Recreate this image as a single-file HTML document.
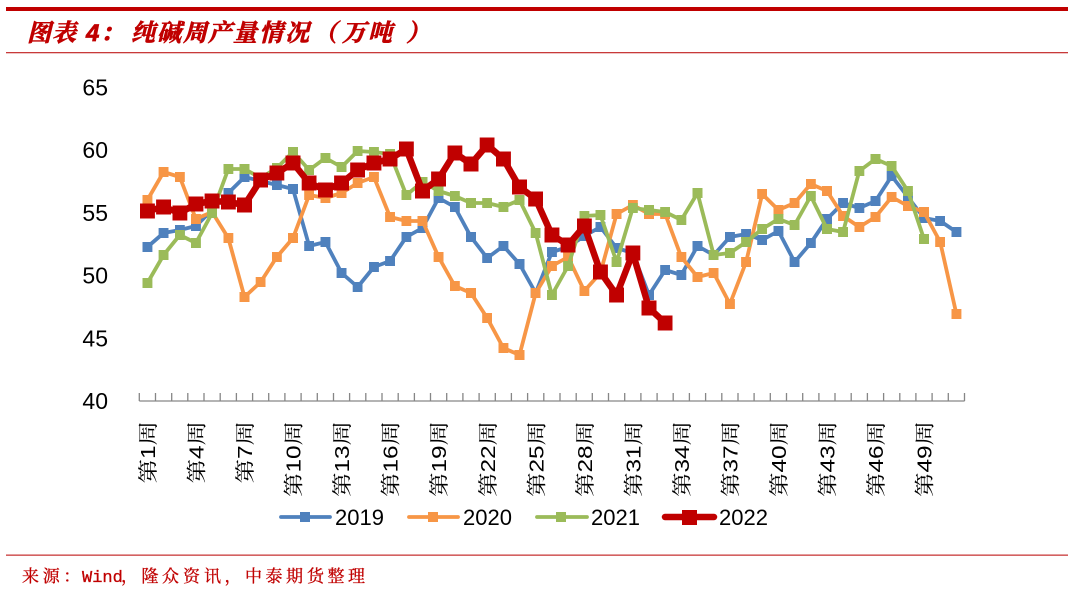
<!DOCTYPE html>
<html>
<head>
<meta charset="utf-8">
<style>
html,body{margin:0;padding:0;background:#fff;}
body{width:1080px;height:590px;overflow:hidden;}
svg{display:block;}
</style>
</head>
<body>
<svg width="1080" height="590" viewBox="0 0 1080 590" xmlns="http://www.w3.org/2000/svg">
<defs>
  <marker id="mb" markerUnits="userSpaceOnUse" markerWidth="10" markerHeight="10" refX="5" refY="5" viewBox="0 0 10 10"><rect x="0" y="0" width="10" height="10" fill="#4F81BD"/></marker>
  <marker id="mo" markerUnits="userSpaceOnUse" markerWidth="10" markerHeight="10" refX="5" refY="5" viewBox="0 0 10 10"><rect x="0" y="0" width="10" height="10" fill="#F79646"/></marker>
  <marker id="mg" markerUnits="userSpaceOnUse" markerWidth="10" markerHeight="10" refX="5" refY="5" viewBox="0 0 10 10"><rect x="0" y="0" width="10" height="10" fill="#9BBB59"/></marker>
  <marker id="mr" markerUnits="userSpaceOnUse" markerWidth="15" markerHeight="15" refX="7.5" refY="7.5" viewBox="0 0 15 15"><rect x="0" y="0" width="15" height="15" fill="#C00000"/></marker>
</defs>

<!-- header bars -->
<rect x="6" y="7" width="1062" height="4" fill="#C00000"/>
<rect x="6" y="52" width="1062" height="1.3" fill="#C83A3A"/>
<rect x="6" y="554.5" width="1062" height="1.3" fill="#C83A3A"/>

<!-- title -->
<text y="41" font-size="24" font-weight="bold" font-style="italic" fill="#C00000" stroke="#C00000" stroke-width="0.7" font-family="'Liberation Sans','Noto Serif CJK SC',serif" x="27 52 86 100 131 157 183 208 233 259 285 313 342 368 406">图表4：纯碱周产量情况（万吨）</text>

<!-- footer -->
<text y="582" font-size="17" fill="#C00000" stroke="#C00000" stroke-width="0.3" font-family="'Liberation Mono','Noto Serif CJK SC',serif" x="22 42.7 63.4 82 92.2 102.4 112.6 121 141.5 162 183 204 224.5 245 265.5 286 307 327.5 348">来源：Wind，隆众资讯，中泰期货整理</text>

<!-- y axis labels -->
<g font-family="'Liberation Sans',sans-serif" font-size="23" fill="#000" text-anchor="end">
  <text x="108" y="95.5">65</text>
  <text x="108" y="158">60</text>
  <text x="108" y="220.8">55</text>
  <text x="108" y="283.6">50</text>
  <text x="108" y="346.4">45</text>
  <text x="108" y="409.2">40</text>
</g>

<!-- x axis -->
<g stroke="#868686" stroke-width="1.3" fill="none">
  <line x1="139.3" y1="401" x2="964.6" y2="401"/>
  <path d="M139.3 393V401 M155.5 393V401 M171.7 393V401 M187.8 393V401 M204 393V401 M220.2 393V401 M236.4 393V401 M252.6 393V401 M268.7 393V401 M284.9 393V401 M301.1 393V401 M317.3 393V401 M333.5 393V401 M349.6 393V401 M365.8 393V401 M382 393V401 M398.2 393V401 M414.4 393V401 M430.5 393V401 M446.7 393V401 M462.9 393V401 M479.1 393V401 M495.3 393V401 M511.4 393V401 M527.6 393V401 M543.8 393V401 M560 393V401 M576.2 393V401 M592.3 393V401 M608.5 393V401 M624.7 393V401 M640.9 393V401 M657.1 393V401 M673.2 393V401 M689.4 393V401 M705.6 393V401 M721.8 393V401 M738 393V401 M754.1 393V401 M770.3 393V401 M786.5 393V401 M802.7 393V401 M818.9 393V401 M835 393V401 M851.2 393V401 M867.4 393V401 M883.6 393V401 M899.8 393V401 M915.9 393V401 M932.1 393V401 M948.3 393V401 M964.5 393V401"/>
</g>

<!-- x labels -->
<g font-family="'Liberation Sans','Noto Serif CJK SC',serif" font-size="20" fill="#000" text-anchor="end">
  <text transform="translate(155,421) rotate(-90) scale(1.22,1)">第1周</text>
  <text transform="translate(203.5,421) rotate(-90) scale(1.22,1)">第4周</text>
  <text transform="translate(252.1,421) rotate(-90) scale(1.22,1)">第7周</text>
  <text transform="translate(300.6,421) rotate(-90) scale(1.22,1)">第10周</text>
  <text transform="translate(349.2,421) rotate(-90) scale(1.22,1)">第13周</text>
  <text transform="translate(397.7,421) rotate(-90) scale(1.22,1)">第16周</text>
  <text transform="translate(446.2,421) rotate(-90) scale(1.22,1)">第19周</text>
  <text transform="translate(494.8,421) rotate(-90) scale(1.22,1)">第22周</text>
  <text transform="translate(543.3,421) rotate(-90) scale(1.22,1)">第25周</text>
  <text transform="translate(591.9,421) rotate(-90) scale(1.22,1)">第28周</text>
  <text transform="translate(640.4,421) rotate(-90) scale(1.22,1)">第31周</text>
  <text transform="translate(688.9,421) rotate(-90) scale(1.22,1)">第34周</text>
  <text transform="translate(737.5,421) rotate(-90) scale(1.22,1)">第37周</text>
  <text transform="translate(786,421) rotate(-90) scale(1.22,1)">第40周</text>
  <text transform="translate(834.6,421) rotate(-90) scale(1.22,1)">第43周</text>
  <text transform="translate(883.1,421) rotate(-90) scale(1.22,1)">第46周</text>
  <text transform="translate(931.6,421) rotate(-90) scale(1.22,1)">第49周</text>
</g>

<!-- series -->
<g fill="none" stroke-linejoin="round" stroke-linecap="round">
<polyline stroke="#4F81BD" stroke-width="3.8" marker-start="url(#mb)" marker-mid="url(#mb)" marker-end="url(#mb)" points="147.4,247 163.6,233 179.8,230 195.9,226 212.1,210 228.3,193 244.5,177 260.7,181 276.8,185 293.0,189 309.2,246 325.4,242 341.6,273 357.7,287 373.9,267 390.1,261 406.3,237 422.5,228 438.6,198 454.8,207 471.0,237 487.2,258 503.4,246 519.5,264 535.7,293 551.9,252 568.1,247 584.3,236 600.4,227 616.6,248 632.8,253 649.0,295 665.2,270 681.3,275 697.5,246 713.7,255 729.9,237 746.1,234 762.2,240 778.4,231 794.6,262 810.8,243 827.0,219 843.1,203 859.3,208 875.5,201 891.7,176 907.9,197 924.0,218 940.2,221 956.4,232"/>
<polyline stroke="#F79646" stroke-width="3.8" marker-start="url(#mo)" marker-mid="url(#mo)" marker-end="url(#mo)" points="147.4,200 163.6,172 179.8,177 195.9,219 212.1,212 228.3,238 244.5,297 260.7,282 276.8,257 293.0,238 309.2,195 325.4,198 341.6,193 357.7,183 373.9,177 390.1,217 406.3,221 422.5,221 438.6,257 454.8,286 471.0,293 487.2,318 503.4,348 519.5,355 535.7,293 551.9,266 568.1,257 584.3,291 600.4,273 616.6,214 632.8,205 649.0,214 665.2,214 681.3,257 697.5,277 713.7,273 729.9,304 746.1,262 762.2,194 778.4,210 794.6,203 810.8,184 827.0,191 843.1,216 859.3,227 875.5,217 891.7,197 907.9,206 924.0,212 940.2,242 956.4,314"/>
<polyline stroke="#9BBB59" stroke-width="3.8" marker-start="url(#mg)" marker-mid="url(#mg)" marker-end="url(#mg)" points="147.4,283 163.6,255 179.8,235 195.9,243 212.1,213 228.3,169 244.5,169 260.7,178 276.8,168 293.0,152 309.2,170 325.4,158 341.6,167 357.7,151 373.9,152 390.1,154 406.3,195 422.5,182 438.6,191 454.8,196 471.0,203 487.2,203 503.4,207 519.5,200 535.7,233 551.9,295 568.1,266 584.3,216 600.4,215 616.6,262 632.8,208 649.0,210 665.2,212 681.3,220 697.5,193 713.7,255 729.9,253 746.1,242 762.2,229 778.4,219 794.6,225 810.8,196 827.0,229 843.1,232 859.3,171 875.5,159 891.7,166 907.9,191 924.0,239"/>
<polyline stroke="#C00000" stroke-width="6.5" marker-start="url(#mr)" marker-mid="url(#mr)" marker-end="url(#mr)" points="147.4,211 163.6,207 179.8,213 195.9,204 212.1,201 228.3,202 244.5,205 260.7,180 276.8,173 293.0,163 309.2,183 325.4,190 341.6,183 357.7,170 373.9,163 390.1,159 406.3,149 422.5,191 438.6,179 454.8,153 471.0,164 487.2,145 503.4,159 519.5,187 535.7,199 551.9,235 568.1,245 584.3,226 600.4,272 616.6,295 632.8,253 649.0,308 665.2,323"/>
</g>

<!-- legend -->
<g>
  <line x1="281" y1="517" x2="330" y2="517" stroke="#4F81BD" stroke-width="3.8" stroke-linecap="round"/>
  <rect x="300" y="512" width="10" height="10" fill="#4F81BD"/>
  <line x1="409" y1="517" x2="458" y2="517" stroke="#F79646" stroke-width="3.8" stroke-linecap="round"/>
  <rect x="428" y="512" width="10" height="10" fill="#F79646"/>
  <line x1="537" y1="517" x2="587" y2="517" stroke="#9BBB59" stroke-width="3.8" stroke-linecap="round"/>
  <rect x="556" y="512" width="10" height="10" fill="#9BBB59"/>
  <line x1="665" y1="517" x2="714" y2="517" stroke="#C00000" stroke-width="6.5" stroke-linecap="round"/>
  <rect x="682" y="510" width="15" height="15" fill="#C00000"/>
  <g font-family="'Liberation Sans',sans-serif" font-size="22" fill="#000">
    <text x="335" y="525">2019</text>
    <text x="463" y="525">2020</text>
    <text x="591" y="525">2021</text>
    <text x="719" y="525">2022</text>
  </g>
</g>
</svg>
</body>
</html>
